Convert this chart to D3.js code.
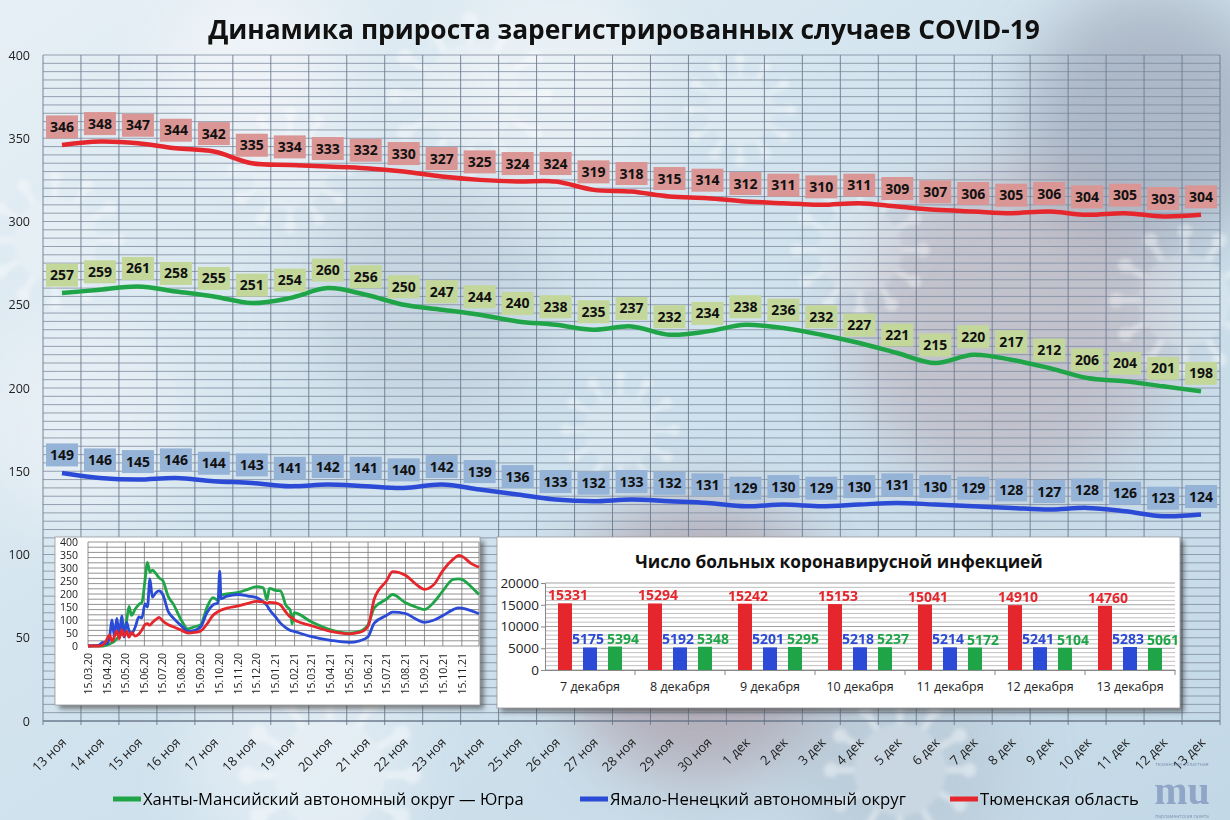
<!DOCTYPE html>
<html>
<head>
<meta charset="utf-8">
<script src="https://cdn.jsdelivr.net/npm/d3@7"></script>
<style>
  body { margin: 0; background: #fff; }
  svg { display: block; font-family: "Open Sans", "Noto Sans", sans-serif; }
</style>
</head>
<body>
<script>
// ---- main chart: daily increment, 13 Nov - 13 Dec ----
var days = ["13 ноя","14 ноя","15 ноя","16 ноя","17 ноя","18 ноя","19 ноя","20 ноя","21 ноя","22 ноя",
  "23 ноя","24 ноя","25 ноя","26 ноя","27 ноя","28 ноя","29 ноя","30 ноя","1 дек","2 дек","3 дек",
  "4 дек","5 дек","6 дек","7 дек","8 дек","9 дек","10 дек","11 дек","12 дек","13 дек"];
var yugra  = [257,259,261,258,255,251,254,260,256,250,247,244,240,238,235,237,232,234,238,236,232,227,221,215,220,217,212,206,204,201,198];
var yanao  = [149,146,145,146,144,143,141,142,141,140,142,139,136,133,132,133,132,131,129,130,129,130,131,130,129,128,127,128,126,123,124];
var tyumen = [346,348,347,344,342,335,334,333,332,330,327,325,324,324,319,318,315,314,312,311,310,311,309,307,306,305,306,304,305,303,304];

var seriesNames  = ["Ханты-Мансийский автономный округ — Югра", "Ямало-Ненецкий автономный округ", "Тюменская область"];
var seriesColors = ["#1fa548", "#2b4bd6", "#e5262c"];
var boxColors    = ["#c4d79b", "#95b3d7", "#da9694"];

// ---- bar inset: number of patients ----
var barDays   = ["7 декабря","8 декабря","9 декабря","10 декабря","11 декабря","12 декабря","13 декабря"];
var barTyumen = [15331,15294,15242,15153,15041,14910,14760];
var barYanao  = [5175,5192,5201,5218,5214,5241,5283];
var barYugra  = [5394,5348,5295,5237,5172,5104,5061];

// ---- history inset ----
var histTicks = ["15.03.20","15.04.20","15.05.20","15.06.20","15.07.20","15.08.20","15.09.20","15.10.20","15.11.20",
  "15.12.20","15.01.21","15.02.21","15.03.21","15.04.21","15.05.21","15.06.21","15.07.21","15.08.21","15.09.21","15.10.21","15.11.21"];
var histDates = ["2020-03-15","2020-04-01","2020-04-08","2020-04-14","2020-04-19","2020-04-23","2020-04-27","2020-05-01",
  "2020-05-05","2020-05-09","2020-05-13","2020-05-17","2020-05-21","2020-05-25","2020-05-31","2020-06-06","2020-06-11",
  "2020-06-16","2020-06-20","2020-06-24","2020-06-28","2020-07-04","2020-07-09","2020-07-15","2020-07-24","2020-08-01",
  "2020-08-15","2020-08-25","2020-09-05","2020-09-15","2020-09-25","2020-10-05","2020-10-13","2020-10-16","2020-10-18",
  "2020-10-28","2020-11-15","2020-12-01","2020-12-15","2020-12-26","2021-01-01","2021-01-05","2021-01-15","2021-01-23",
  "2021-02-01","2021-02-08","2021-02-11","2021-02-14","2021-03-15","2021-04-15","2021-05-15","2021-06-01","2021-06-15",
  "2021-06-25","2021-07-15","2021-07-25","2021-08-15","2021-09-01","2021-09-15","2021-10-01","2021-10-15","2021-11-01",
  "2021-11-10","2021-11-15","2021-12-01","2021-12-13"];
var histTyumen = [0,0,3,22,42,18,36,58,28,62,38,56,34,52,38,46,62,82,86,80,90,102,110,96,82,74,60,50,52,58,84,118,132,136,138,
  146,154,164,172,170,164,168,166,158,130,112,108,102,78,56,47,52,76,180,250,286,272,238,218,238,290,334,348,345,316,303];
var histYugra  = [0,0,0,3,8,12,18,28,36,52,66,98,152,118,142,160,168,252,322,284,292,278,262,252,190,162,96,66,74,82,148,186,
  176,182,196,200,206,218,228,224,178,222,214,212,156,138,84,128,92,62,49,56,82,146,180,198,166,150,140,170,212,256,258,256,226,198];
var histYanao  = [0,2,14,8,30,100,38,106,44,116,34,92,58,48,72,112,108,162,150,258,188,206,212,198,132,108,76,56,60,74,128,158,
  166,288,182,192,198,192,186,170,156,140,112,88,70,60,58,56,36,22,14,20,36,88,117,130,125,104,91,100,117,140,147,146,135,124];

var W = 1230, H = 820;

function fitText(sel, target) {
  var len = sel.node().getComputedTextLength();
  var fs = parseFloat(sel.attr("font-size"));
  if (len > 0) sel.attr("font-size", fs * target / len);
}

var svg = d3.select("body").append("svg")
  .attr("width", W)
  .attr("height", H);
var defs = svg.append("defs");

// background
var bg = defs.append("linearGradient").attr("id", "bg")
  .attr("x1", 0).attr("y1", 0).attr("x2", 1).attr("y2", 1);
bg.append("stop").attr("offset", "0%").attr("stop-color", "#e6eff5");
bg.append("stop").attr("offset", "50%").attr("stop-color", "#d0e2ed");
bg.append("stop").attr("offset", "100%").attr("stop-color", "#c3d8e6");
defs.append("filter").attr("id", "blur")
  .attr("x", "-60%").attr("y", "-60%").attr("width", "220%").attr("height", "220%")
  .append("feGaussianBlur").attr("stdDeviation", 32);
defs.append("filter").attr("id", "soft")
  .attr("x", "-20%").attr("y", "-20%").attr("width", "140%").attr("height", "140%")
  .append("feGaussianBlur").attr("stdDeviation", 2);
defs.append("filter").attr("id", "shadow")
  .attr("x", "-10%").attr("y", "-10%").attr("width", "120%").attr("height", "130%")
  .append("feGaussianBlur").attr("stdDeviation", 2.5);

svg.append("rect").attr("width", W).attr("height", H).attr("fill", "url(#bg)");

var blobs = [[1150,120,130,"#8f97a7",0.55],[1010,330,160,"#b49ea7",0.45],[700,640,140,"#9c818c",0.5],
  [430,300,120,"#a9b6c6",0.35],[250,70,90,"#f6f9fc",0.6],[80,420,110,"#f2f6fa",0.5],
  [560,80,100,"#f4f7fa",0.55],[300,760,120,"#f2f7fa",0.45],[900,760,110,"#a8b4c4",0.35]];
svg.append("g").attr("filter", "url(#blur)")
  .selectAll("circle").data(blobs).enter().append("circle")
  .attr("cx", function(d) { return d[0]; })
  .attr("cy", function(d) { return d[1]; })
  .attr("r", function(d) { return d[2]; })
  .attr("fill", function(d) { return d[3]; })
  .attr("opacity", function(d) { return d[4]; });

var viruses = [[470,95,50],[290,170,38],[860,250,42],[1185,300,46],[620,430,36],[330,775,55],
  [900,770,46],[55,240,42],[1060,610,32],[740,110,34]];
var vg = svg.append("g").attr("filter", "url(#soft)").attr("opacity", 0.4);
viruses.forEach(function(v) {
  var g = vg.append("g").attr("transform", "translate(" + v[0] + "," + v[1] + ")");
  g.append("circle").attr("r", v[2]).attr("fill", "#ffffff").attr("opacity", 0.5);
  d3.range(12).forEach(function(k) {
    var a = k * Math.PI / 6;
    g.append("line")
      .attr("x1", Math.cos(a) * v[2]).attr("y1", Math.sin(a) * v[2])
      .attr("x2", Math.cos(a) * v[2] * 1.45).attr("y2", Math.sin(a) * v[2] * 1.45)
      .attr("stroke", "#ffffff").attr("stroke-width", v[2] * 0.14);
    g.append("circle")
      .attr("cx", Math.cos(a) * v[2] * 1.5).attr("cy", Math.sin(a) * v[2] * 1.5)
      .attr("r", v[2] * 0.16).attr("fill", "#ffffff");
  });
});

// title
var title = svg.append("text")
  .attr("x", 624).attr("y", 39)
  .attr("text-anchor", "middle")
  .attr("font-size", 27)
  .attr("font-weight", "bold")
  .attr("fill", "#111")
  .text("Динамика прироста зарегистрированных случаев COVID-19");
fitText(title, 832);

// ---- main chart ----
var plot = {l: 43, r: 1220, t: 55, b: 721};
var x = d3.scaleBand().domain(days).range([plot.l, plot.r]);
var y = d3.scaleLinear().domain([0, 400]).range([plot.b, plot.t]);
function cx(i) { return x(days[i]) + x.bandwidth() / 2; }

var grid = svg.append("g");
grid.selectAll(".hl").data(y.ticks(80)).enter().append("line")
  .attr("class", "hl")
  .attr("x1", plot.l).attr("x2", plot.r)
  .attr("y1", function(d) { return y(d); })
  .attr("y2", function(d) { return y(d); })
  .attr("stroke", "#7f8c9e").attr("stroke-width", 0.8);
grid.selectAll(".vl").data(days).enter().append("line")
  .attr("class", "vl")
  .attr("x1", function(d) { return x(d); })
  .attr("x2", function(d) { return x(d); })
  .attr("y1", plot.t).attr("y2", plot.b + 4)
  .attr("stroke", "#6c7a8e").attr("stroke-width", 0.9);
grid.append("line")
  .attr("x1", plot.r).attr("x2", plot.r).attr("y1", plot.t).attr("y2", plot.b + 4)
  .attr("stroke", "#6c7a8e").attr("stroke-width", 0.9);
grid.append("line")
  .attr("x1", plot.l).attr("x2", plot.r).attr("y1", plot.b).attr("y2", plot.b)
  .attr("stroke", "#5d6a7c").attr("stroke-width", 1);

var yAxis = svg.append("g")
  .attr("transform", "translate(30,0)")
  .call(d3.axisLeft(y).ticks(8).tickSize(0).tickPadding(0));
yAxis.select(".domain").remove();
yAxis.attr("font-family", null).attr("font-size", 12.5);
yAxis.selectAll("text").attr("fill", "#222");

var xAxis = svg.append("g")
  .attr("transform", "translate(0," + plot.b + ")")
  .call(d3.axisBottom(x).tickSize(0).tickPadding(0));
xAxis.select(".domain").remove();
xAxis.attr("font-family", null).attr("font-size", 13);
xAxis.selectAll("text")
  .attr("fill", "#222")
  .attr("text-anchor", "end")
  .attr("y", 0).attr("dy", "0.35em")
  .attr("transform", "translate(2,19) rotate(-45)");

var series = [
  {name: seriesNames[0], values: yugra, color: seriesColors[0], box: boxColors[0]},
  {name: seriesNames[1], values: yanao, color: seriesColors[1], box: boxColors[1]},
  {name: seriesNames[2], values: tyumen, color: seriesColors[2], box: boxColors[2]}
];

var line = d3.line()
  .x(function(d, i) { return cx(i); })
  .y(function(d) { return y(d); })
  .curve(d3.curveCatmullRom.alpha(0.5));

svg.selectAll(".series").data(series).enter().append("path")
  .attr("class", "series")
  .attr("d", function(s) { return line(s.values); })
  .attr("fill", "none")
  .attr("stroke", function(s) { return s.color; })
  .attr("stroke-width", 4.5)
  .attr("stroke-linejoin", "round");

series.forEach(function(s) {
  var lab = svg.append("g").selectAll("g").data(s.values).enter().append("g")
    .attr("transform", function(d, i) { return "translate(" + cx(i) + "," + (y(d) - 18) + ")"; });
  lab.append("rect")
    .attr("x", -16).attr("y", -11.5)
    .attr("width", 32).attr("height", 23)
    .attr("fill", s.box);
  lab.append("text")
    .attr("text-anchor", "middle")
    .attr("dy", "0.36em")
    .attr("font-size", 14)
    .attr("font-weight", "bold")
    .attr("fill", "#111")
    .text(function(d) { return d; });
});

// ---- inset: history since March 2020 ----
var hb = {l: 55, t: 537, r: 480, b: 705};
var hp = {l: 88, r: 479, t: 542, b: 646};
var parseIso = d3.timeParse("%Y-%m-%d");
var parseTick = d3.timeParse("%d.%m.%y");
var hDates = histDates.map(parseIso);
var hx = d3.scaleTime().domain(d3.extent(hDates)).range([hp.l, hp.r]);
var hy = d3.scaleLinear().domain([0, 400]).range([hp.b, hp.t]);

svg.append("rect")
  .attr("x", hb.l + 4).attr("y", hb.t + 4)
  .attr("width", hb.r - hb.l).attr("height", hb.b - hb.t)
  .attr("fill", "#3a3a3a").attr("opacity", 0.6).attr("filter", "url(#shadow)");
svg.append("rect")
  .attr("x", hb.l).attr("y", hb.t)
  .attr("width", hb.r - hb.l).attr("height", hb.b - hb.t)
  .attr("fill", "#fff").attr("stroke", "#9a9a9a").attr("stroke-width", 0.8);

var hg = svg.append("g");
hg.selectAll(".hh").data(hy.ticks(16)).enter().append("line")
  .attr("x1", hp.l).attr("x2", hp.r)
  .attr("y1", function(d) { return hy(d); })
  .attr("y2", function(d) { return hy(d); })
  .attr("stroke", "#777").attr("stroke-width", 0.8);
hg.selectAll(".hv").data(histTicks).enter().append("line")
  .attr("x1", function(d) { return hx(parseTick(d)); })
  .attr("x2", function(d) { return hx(parseTick(d)); })
  .attr("y1", hp.t).attr("y2", hp.b)
  .attr("stroke", "#777").attr("stroke-width", 0.8);
hg.append("line")
  .attr("x1", hp.r).attr("x2", hp.r).attr("y1", hp.t).attr("y2", hp.b)
  .attr("stroke", "#777").attr("stroke-width", 0.8);

hg.selectAll(".hyl").data(hy.ticks(8)).enter().append("text")
  .attr("x", hp.l - 10)
  .attr("y", function(d) { return hy(d); })
  .attr("dy", "0.35em")
  .attr("text-anchor", "end")
  .attr("font-size", 10.5)
  .attr("fill", "#222")
  .text(function(d) { return d; });
hg.selectAll(".hxl").data(histTicks).enter().append("text")
  .attr("transform", function(d) { return "translate(" + hx(parseTick(d)) + "," + (hp.b + 7) + ") rotate(-90)"; })
  .attr("dy", "0.35em")
  .attr("text-anchor", "end")
  .attr("font-size", 10.5)
  .attr("fill", "#222")
  .text(function(d) { return d; });

var hline = d3.line()
  .x(function(d, i) { return hx(hDates[i]); })
  .y(function(d) { return hy(d); })
  .curve(d3.curveMonotoneX);
[[histYugra, seriesColors[0]], [histYanao, seriesColors[1]], [histTyumen, seriesColors[2]]].forEach(function(h) {
  hg.append("path")
    .attr("d", hline(h[0]))
    .attr("fill", "none")
    .attr("stroke", h[1])
    .attr("stroke-width", 2.8)
    .attr("stroke-linejoin", "round");
});

// ---- inset: bars ----
var bb = {l: 497, t: 537, r: 1180, b: 708};
var bp = {l: 545, r: 1175, t: 583, b: 670};
var bx = d3.scaleBand().domain(barDays).range([bp.l, bp.r]);
var by = d3.scaleLinear().domain([0, 20000]).range([bp.b, bp.t]);

svg.append("rect")
  .attr("x", bb.l + 4).attr("y", bb.t + 4)
  .attr("width", bb.r - bb.l).attr("height", bb.b - bb.t)
  .attr("fill", "#3a3a3a").attr("opacity", 0.6).attr("filter", "url(#shadow)");
svg.append("rect")
  .attr("x", bb.l).attr("y", bb.t)
  .attr("width", bb.r - bb.l).attr("height", bb.b - bb.t)
  .attr("fill", "#fff").attr("stroke", "#9a9a9a").attr("stroke-width", 0.8);

var bt = svg.append("text")
  .attr("x", 839).attr("y", 568)
  .attr("text-anchor", "middle")
  .attr("font-size", 17)
  .attr("font-weight", "bold")
  .attr("fill", "#111")
  .text("Число больных коронавирусной инфекцией");
fitText(bt, 408);

var bg2 = svg.append("g");
bg2.selectAll(".bh").data(by.ticks(20)).enter().append("line")
  .attr("x1", bp.l).attr("x2", bp.r)
  .attr("y1", function(d) { return by(d); })
  .attr("y2", function(d) { return by(d); })
  .attr("stroke", function(d) { return d % 5000 === 0 ? "#8a8a8a" : "#b0b0b0"; })
  .attr("stroke-width", 0.8);

var byAxis = bg2.append("g")
  .attr("transform", "translate(" + bp.l + ",0)")
  .call(d3.axisLeft(by).ticks(4).tickFormat(d3.format("d")).tickSize(4).tickPadding(2));
byAxis.attr("font-family", null).attr("font-size", 13.5);
byAxis.selectAll("text").attr("fill", "#222");
byAxis.selectAll("line, path").attr("stroke", "#888");

var bxAxis = bg2.append("g")
  .attr("transform", "translate(0," + bp.b + ")")
  .call(d3.axisBottom(bx).tickSize(0).tickPadding(12));
bxAxis.attr("font-family", null).attr("font-size", 12.5);
bxAxis.selectAll("text").attr("fill", "#222");
bxAxis.select(".domain").attr("stroke", "#888");
bg2.selectAll(".btk").data(barDays).enter().append("line")
  .attr("x1", function(d) { return bx(d) + bx.bandwidth(); })
  .attr("x2", function(d) { return bx(d) + bx.bandwidth(); })
  .attr("y1", bp.b).attr("y2", bp.b + 5)
  .attr("stroke", "#888");

var barSeries = [
  {values: barTyumen, color: seriesColors[2], off: -25, shift: 3},
  {values: barYanao, color: seriesColors[1], off: 0, shift: -2},
  {values: barYugra, color: seriesColors[0], off: 25, shift: 8}
];
var barW = 14;
barSeries.forEach(function(s) {
  var g = bg2.append("g");
  g.selectAll("rect").data(s.values).enter().append("rect")
    .attr("x", function(d, i) { return bx(barDays[i]) + bx.bandwidth() / 2 + s.off - barW / 2; })
    .attr("y", function(d) { return by(d); })
    .attr("width", barW)
    .attr("height", function(d) { return bp.b - by(d); })
    .attr("fill", s.color);
  g.selectAll("text").data(s.values).enter().append("text")
    .attr("x", function(d, i) { return bx(barDays[i]) + bx.bandwidth() / 2 + s.off + s.shift; })
    .attr("y", function(d) { return by(d) - 3; })
    .attr("text-anchor", "middle")
    .attr("font-size", 14)
    .attr("font-weight", "bold")
    .attr("fill", s.color)
    .text(function(d) { return d; });
});

// ---- legend ----
var legX = [113, 580, 950];
var legW = [381, 296, 159];
series.forEach(function(s, i) {
  svg.append("line")
    .attr("x1", legX[i]).attr("x2", legX[i] + 28)
    .attr("y1", 799).attr("y2", 799)
    .attr("stroke", s.color).attr("stroke-width", 5);
  var t = svg.append("text")
    .attr("x", legX[i] + 30).attr("y", 799)
    .attr("dy", "0.35em")
    .attr("font-size", 17)
    .attr("fill", "#000")
    .text(s.name);
  fitText(t, legW[i]);
});

// ---- logo ----
var logo = svg.append("g").attr("opacity", 0.75);
logo.append("text")
  .attr("x", 1182).attr("y", 804)
  .attr("text-anchor", "middle")
  .attr("font-family", "Liberation Serif, DejaVu Serif, serif")
  .attr("font-weight", "bold")
  .attr("font-size", 40)
  .attr("fill", "#7f95bd")
  .text("mu");
logo.append("text")
  .attr("x", 1182).attr("y", 766)
  .attr("text-anchor", "middle")
  .attr("font-size", 5)
  .attr("fill", "#6d80a6")
  .text("тюменская областная");
logo.append("text")
  .attr("x", 1182).attr("y", 818)
  .attr("text-anchor", "middle")
  .attr("font-size", 5)
  .attr("fill", "#6d80a6")
  .text("парламентская газета");
</script>
</body>
</html>
